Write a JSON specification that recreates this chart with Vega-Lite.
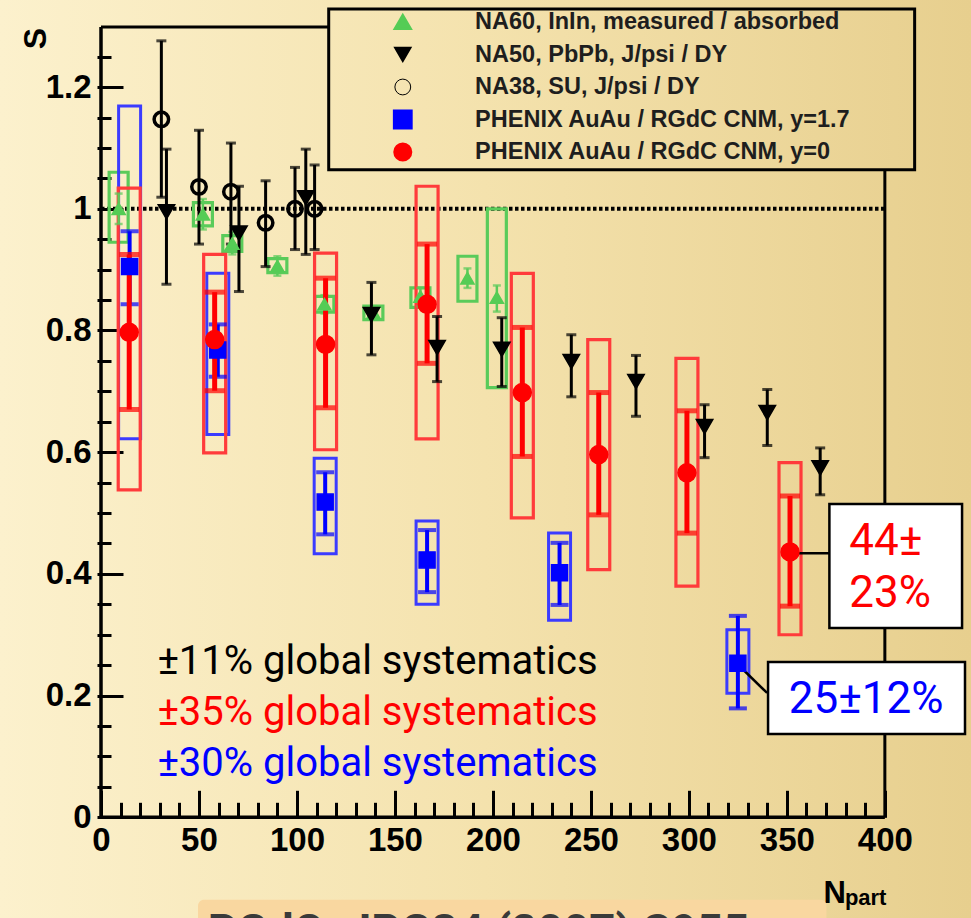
{
  "$schema": "https://vega.github.io/schema/vega-lite/v6.json",
  "width": 971,
  "height": 918,
  "padding": 0,
  "autosize": {"type": "none"},
  "background": "#F2DFA6",
  "config": {
    "view": {"stroke": null, "fill": {"gradient": "linear", "x1": 0, "y1": 0, "x2": 1, "y2": 0, "stops": [{"offset": 0, "color": "#FCF1CD"}, {"offset": 0.5, "color": "#F4E2AD"}, {"offset": 1, "color": "#E7CF8E"}]}}
  },
  "data": {"values": [
    {"series": "NA60, InIn, measured / absorbed", "N": 9, "S": 1.0, "lo": 0.975, "hi": 1.025, "blo": 0.945, "bhi": 1.06},
    {"series": "NA60, InIn, measured / absorbed", "N": 52, "S": 0.991, "lo": 0.966, "hi": 1.016, "blo": 0.972, "bhi": 1.01},
    {"series": "NA60, InIn, measured / absorbed", "N": 67, "S": 0.943, "lo": 0.925, "hi": 0.962, "blo": 0.93, "bhi": 0.956},
    {"series": "NA60, InIn, measured / absorbed", "N": 90, "S": 0.906, "lo": 0.89, "hi": 0.922, "blo": 0.895, "bhi": 0.918},
    {"series": "NA60, InIn, measured / absorbed", "N": 114, "S": 0.843, "lo": 0.828, "hi": 0.858, "blo": 0.83, "bhi": 0.856},
    {"series": "NA60, InIn, measured / absorbed", "N": 139, "S": 0.829, "lo": 0.818, "hi": 0.84, "blo": 0.818, "bhi": 0.84},
    {"series": "NA60, InIn, measured / absorbed", "N": 163, "S": 0.856, "lo": 0.84, "hi": 0.87, "blo": 0.838, "bhi": 0.87},
    {"series": "NA60, InIn, measured / absorbed", "N": 187, "S": 0.886, "lo": 0.87, "hi": 0.902, "blo": 0.848, "bhi": 0.922},
    {"series": "NA60, InIn, measured / absorbed", "N": 202, "S": 0.854, "lo": 0.831, "hi": 0.874, "blo": 0.706, "bhi": 1.0},
    {"series": "PHENIX AuAu / RGdC CNM, y=1.7", "N": 14.6, "S": 0.905, "lo": 0.843, "hi": 0.963, "blo": 0.622, "bhi": 1.169},
    {"series": "PHENIX AuAu / RGdC CNM, y=1.7", "N": 59.6, "S": 0.768, "lo": 0.724, "hi": 0.81, "blo": 0.629, "bhi": 0.894},
    {"series": "PHENIX AuAu / RGdC CNM, y=1.7", "N": 114.4, "S": 0.518, "lo": 0.465, "hi": 0.567, "blo": 0.433, "bhi": 0.59},
    {"series": "PHENIX AuAu / RGdC CNM, y=1.7", "N": 166.4, "S": 0.423, "lo": 0.37, "hi": 0.472, "blo": 0.35, "bhi": 0.487},
    {"series": "PHENIX AuAu / RGdC CNM, y=1.7", "N": 234, "S": 0.402, "lo": 0.349, "hi": 0.451, "blo": 0.324, "bhi": 0.467},
    {"series": "PHENIX AuAu / RGdC CNM, y=1.7", "N": 325, "S": 0.253, "lo": 0.179, "hi": 0.331, "blo": 0.204, "bhi": 0.308},
    {"series": "PHENIX AuAu / RGdC CNM, y=0", "N": 14.4, "S": 0.797, "lo": 0.67, "hi": 0.925, "blo": 0.538, "bhi": 1.034},
    {"series": "PHENIX AuAu / RGdC CNM, y=0", "N": 58, "S": 0.785, "lo": 0.701, "hi": 0.863, "blo": 0.599, "bhi": 0.925},
    {"series": "PHENIX AuAu / RGdC CNM, y=0", "N": 114.6, "S": 0.777, "lo": 0.673, "hi": 0.886, "blo": 0.604, "bhi": 0.927},
    {"series": "PHENIX AuAu / RGdC CNM, y=0", "N": 166.4, "S": 0.843, "lo": 0.746, "hi": 0.942, "blo": 0.622, "bhi": 1.037},
    {"series": "PHENIX AuAu / RGdC CNM, y=0", "N": 215, "S": 0.698, "lo": 0.593, "hi": 0.805, "blo": 0.492, "bhi": 0.894},
    {"series": "PHENIX AuAu / RGdC CNM, y=0", "N": 254, "S": 0.596, "lo": 0.497, "hi": 0.698, "blo": 0.407, "bhi": 0.785},
    {"series": "PHENIX AuAu / RGdC CNM, y=0", "N": 299, "S": 0.566, "lo": 0.467, "hi": 0.668, "blo": 0.38, "bhi": 0.754},
    {"series": "PHENIX AuAu / RGdC CNM, y=0", "N": 351.6, "S": 0.436, "lo": 0.347, "hi": 0.528, "blo": 0.3, "bhi": 0.583},
    {"series": "NA50, PbPb, J/psi / DY", "N": 33.4, "S": 0.995, "lo": 0.876, "hi": 1.098},
    {"series": "NA50, PbPb, J/psi / DY", "N": 70.4, "S": 0.96, "lo": 0.864, "hi": 1.037},
    {"series": "NA50, PbPb, J/psi / DY", "N": 104.5, "S": 1.018, "lo": 0.925, "hi": 1.098},
    {"series": "NA50, PbPb, J/psi / DY", "N": 138, "S": 0.826, "lo": 0.76, "hi": 0.879},
    {"series": "NA50, PbPb, J/psi / DY", "N": 171.5, "S": 0.772, "lo": 0.716, "hi": 0.823},
    {"series": "NA50, PbPb, J/psi / DY", "N": 204.5, "S": 0.769, "lo": 0.708, "hi": 0.821},
    {"series": "NA50, PbPb, J/psi / DY", "N": 240, "S": 0.749, "lo": 0.691, "hi": 0.793},
    {"series": "NA50, PbPb, J/psi / DY", "N": 273, "S": 0.716, "lo": 0.659, "hi": 0.759},
    {"series": "NA50, PbPb, J/psi / DY", "N": 308, "S": 0.642, "lo": 0.591, "hi": 0.678},
    {"series": "NA50, PbPb, J/psi / DY", "N": 340, "S": 0.665, "lo": 0.611, "hi": 0.703},
    {"series": "NA50, PbPb, J/psi / DY", "N": 367, "S": 0.574, "lo": 0.53, "hi": 0.607},
    {"series": "NA38, SU, J/psi / DY", "N": 30.8, "S": 1.147, "lo": 1.019, "hi": 1.276},
    {"series": "NA38, SU, J/psi / DY", "N": 50, "S": 1.036, "lo": 0.942, "hi": 1.129},
    {"series": "NA38, SU, J/psi / DY", "N": 66.3, "S": 1.028, "lo": 0.942, "hi": 1.108},
    {"series": "NA38, SU, J/psi / DY", "N": 84, "S": 0.977, "lo": 0.905, "hi": 1.046},
    {"series": "NA38, SU, J/psi / DY", "N": 99, "S": 1.0, "lo": 0.933, "hi": 1.068},
    {"series": "NA38, SU, J/psi / DY", "N": 109, "S": 1.0, "lo": 0.933, "hi": 1.072}
  ]},
  "resolve": {"scale": {"y": "independent"}, "axis": {"x": "independent", "y": "independent"}},
  "layer": [
    {
      "data": {"values": [{}]},
      "mark": {"type": "rect", "fill": "#F9D7A0", "cornerRadius": 6},
      "encoding": {
        "x": {"datum": 49.5, "type": "quantitative", "scale": {"domain": [-48.99, 441.41], "nice": false, "zero": false}, "axis": null},
        "x2": {"datum": 370.2},
        "y": {"datum": -0.1357, "type": "quantitative", "scale": {"domain": [-0.1655, 1.3431], "nice": false, "zero": false}, "axis": null},
        "y2": {"datum": -0.2}
      }
    },
    {
      "data": {"values": [{}]},
      "mark": {"type": "text", "text": "RGdC, JPG34 (2007) S955", "font": "Roboto", "fontSize": 45.5, "fontWeight": "bold", "color": "#3A3A3A", "align": "left", "baseline": "alphabetic"},
      "encoding": {
        "x": {"datum": 54.5, "type": "quantitative", "scale": {"domain": [-48.99, 441.41], "nice": false, "zero": false}, "axis": null},
        "y": {"datum": -0.2126, "type": "quantitative", "scale": {"domain": [-0.1655, 1.3431], "nice": false, "zero": false}, "axis": null}
      }
    },
    {
      "data": {"values": [{}]},
      "mark": {"type": "rule", "color": "#000000", "strokeWidth": 3.5},
      "encoding": {
        "x": {"datum": 0, "type": "quantitative", "scale": {"domain": [-48.99, 441.41], "nice": false, "zero": false}, "axis": null},
        "y": {"datum": 0, "type": "quantitative", "scale": {"domain": [-0.1655, 1.3431], "nice": false, "zero": false}, "axis": null},
        "y2": {"datum": 1.2988}
      }
    },
    {
      "data": {"values": [{}]},
      "mark": {"type": "rule", "color": "#000000", "strokeWidth": 3.5},
      "encoding": {
        "x": {"datum": 0, "type": "quantitative", "scale": {"domain": [-48.99, 441.41], "nice": false, "zero": false}, "axis": null},
        "x2": {"datum": 400},
        "y": {"datum": 0, "type": "quantitative", "scale": {"domain": [-0.1655, 1.3431], "nice": false, "zero": false}, "axis": null}
      }
    },
    {
      "data": {"values": [{}]},
      "mark": {"type": "rule", "color": "#000000", "strokeWidth": 3},
      "encoding": {
        "x": {"datum": 0, "type": "quantitative", "scale": {"domain": [-48.99, 441.41], "nice": false, "zero": false}, "axis": null},
        "x2": {"datum": 116.2},
        "y": {"datum": 1.2988, "type": "quantitative", "scale": {"domain": [-0.1655, 1.3431], "nice": false, "zero": false}, "axis": null}
      }
    },
    {
      "data": {"values": [{}]},
      "mark": {"type": "rule", "color": "#000000", "strokeWidth": 3},
      "encoding": {
        "x": {"datum": 400, "type": "quantitative", "scale": {"domain": [-48.99, 441.41], "nice": false, "zero": false}, "axis": null},
        "y": {"datum": 0, "type": "quantitative", "scale": {"domain": [-0.1655, 1.3431], "nice": false, "zero": false}, "axis": null},
        "y2": {"datum": 1.0642}
      }
    },
    {
      "data": {"values": [{}]},
      "mark": {"type": "rule", "color": "#000000", "strokeWidth": 4, "strokeDash": [3.5, 2.5]},
      "encoding": {
        "x": {"datum": 0, "type": "quantitative", "scale": {"domain": [-48.99, 441.41], "nice": false, "zero": false}, "axis": null},
        "x2": {"datum": 400},
        "y": {"datum": 1, "type": "quantitative", "scale": {"domain": [-0.1655, 1.3431], "nice": false, "zero": false}, "axis": null}
      }
    },
    {
      "transform": [{"filter": {"field": "series", "equal": "NA60, InIn, measured / absorbed"}}],
      "mark": {"type": "bar", "width": 19, "filled": false, "stroke": "#5ACB5A", "strokeWidth": 3.2},
      "encoding": {
        "x": {"field": "N", "type": "quantitative", "scale": {"domain": [-48.99, 441.41], "nice": false, "zero": false},
          "axis": {"orient": "bottom", "offset": -100.7, "values": [10,20,30,40,60,70,80,90,110,120,130,140,160,170,180,190,210,220,230,240,260,270,280,290,310,320,330,340,360,370,380,390], "domain": false, "grid": false, "tickSize": -15, "tickWidth": 3, "tickColor": "#000000", "labels": false, "title": null}},
        "y": {"field": "blo", "type": "quantitative", "scale": {"domain": [-0.1655, 1.3431], "nice": false, "zero": false},
          "axis": {"orient": "left", "offset": -97, "values": [0.05,0.1,0.15,0.25,0.3,0.35,0.45,0.5,0.55,0.65,0.7,0.75,0.85,0.9,0.95,1.05,1.1,1.15,1.25], "domain": false, "grid": false, "tickSize": -14, "tickWidth": 3, "tickColor": "#000000", "labels": false, "title": null}},
        "y2": {"field": "bhi"}
      }
    },
    {
      "transform": [{"filter": {"field": "series", "equal": "PHENIX AuAu / RGdC CNM, y=1.7"}}],
      "mark": {"type": "bar", "width": 22, "filled": false, "stroke": "#3B3BFF", "strokeWidth": 3},
      "encoding": {
        "x": {"field": "N", "type": "quantitative", "scale": {"domain": [-48.99, 441.41], "nice": false, "zero": false}, "axis": null},
        "y": {"field": "blo", "type": "quantitative", "scale": {"domain": [-0.1655, 1.3431], "nice": false, "zero": false}, "axis": null},
        "y2": {"field": "bhi"}
      }
    },
    {
      "transform": [{"filter": {"field": "series", "equal": "PHENIX AuAu / RGdC CNM, y=0"}}],
      "mark": {"type": "bar", "width": 22, "filled": false, "stroke": "#FF3B3B", "strokeWidth": 3.2},
      "encoding": {
        "x": {"field": "N", "type": "quantitative", "scale": {"domain": [-48.99, 441.41], "nice": false, "zero": false}, "axis": null},
        "y": {"field": "blo", "type": "quantitative", "scale": {"domain": [-0.1655, 1.3431], "nice": false, "zero": false}, "axis": null},
        "y2": {"field": "bhi"}
      }
    },
    {
      "transform": [{"filter": {"field": "series", "equal": "NA60, InIn, measured / absorbed"}}],
      "mark": {"type": "errorbar", "ticks": true, "size": 8, "thickness": 2.5, "color": "#5ACB5A"},
      "encoding": {
        "x": {"field": "N", "type": "quantitative", "scale": {"domain": [-48.99, 441.41], "nice": false, "zero": false}, "axis": null},
        "y": {"field": "lo", "type": "quantitative", "scale": {"domain": [-0.1655, 1.3431], "nice": false, "zero": false}, "axis": null},
        "y2": {"field": "hi"}
      }
    },
    {
      "transform": [{"filter": {"field": "series", "equal": "PHENIX AuAu / RGdC CNM, y=1.7"}}],
      "mark": {"type": "errorbar", "ticks": true, "size": 18, "thickness": 4, "color": "#0000FF"},
      "encoding": {
        "x": {"field": "N", "type": "quantitative", "scale": {"domain": [-48.99, 441.41], "nice": false, "zero": false}, "axis": null},
        "y": {"field": "lo", "type": "quantitative", "scale": {"domain": [-0.1655, 1.3431], "nice": false, "zero": false}, "axis": null},
        "y2": {"field": "hi"}
      }
    },
    {
      "transform": [{"filter": {"field": "series", "equal": "PHENIX AuAu / RGdC CNM, y=0"}}],
      "mark": {"type": "errorbar", "ticks": true, "size": 20, "thickness": 5, "color": "#FF0000"},
      "encoding": {
        "x": {"field": "N", "type": "quantitative", "scale": {"domain": [-48.99, 441.41], "nice": false, "zero": false}, "axis": null},
        "y": {"field": "lo", "type": "quantitative", "scale": {"domain": [-0.1655, 1.3431], "nice": false, "zero": false}, "axis": null},
        "y2": {"field": "hi"}
      }
    },
    {
      "transform": [{"filter": {"field": "series", "oneOf": ["NA50, PbPb, J/psi / DY", "NA38, SU, J/psi / DY"]}}],
      "mark": {"type": "errorbar", "ticks": true, "size": 10, "thickness": 3, "color": "#000000"},
      "encoding": {
        "x": {"field": "N", "type": "quantitative", "scale": {"domain": [-48.99, 441.41], "nice": false, "zero": false}, "axis": null},
        "y": {"field": "lo", "type": "quantitative", "scale": {"domain": [-0.1655, 1.3431], "nice": false, "zero": false}, "axis": null},
        "y2": {"field": "hi"}
      }
    },
    {
      "data": {"values": [{}]},
      "mark": {"type": "rule", "color": "#000000", "strokeWidth": 2.5},
      "encoding": {
        "x": {"datum": 352, "type": "quantitative", "scale": {"domain": [-48.99, 441.41], "nice": false, "zero": false}, "axis": null},
        "x2": {"datum": 371.7},
        "y": {"datum": 0.434, "type": "quantitative", "scale": {"domain": [-0.1655, 1.3431], "nice": false, "zero": false}, "axis": null}
      }
    },
    {
      "data": {"values": [{}]},
      "mark": {"type": "rule", "color": "#000000", "strokeWidth": 2.5},
      "encoding": {
        "x": {"datum": 323.7, "type": "quantitative", "scale": {"domain": [-48.99, 441.41], "nice": false, "zero": false}, "axis": null},
        "x2": {"datum": 339.9},
        "y": {"datum": 0.2552, "type": "quantitative", "scale": {"domain": [-0.1655, 1.3431], "nice": false, "zero": false}, "axis": null},
        "y2": {"datum": 0.2043}
      }
    },
    {
      "mark": {"type": "point", "filled": true, "opacity": 1},
      "encoding": {
        "x": {"field": "N", "type": "quantitative", "scale": {"domain": [-48.99, 441.41], "nice": false, "zero": false},
          "axis": {"orient": "bottom", "offset": -100.7, "values": [0,50,100,150,200,250,300,350,400], "domain": false, "grid": false, "tickSize": -27, "tickWidth": 3, "tickColor": "#000000", "labelFont": "Liberation Sans", "labelFontWeight": "bold", "labelFontSize": 33, "labelColor": "#000000", "labelPadding": 34, "labelOverlap": false, "labelFlush": false, "title": "N", "titleFont": "Liberation Sans", "titleFontWeight": "bold", "titleFontSize": 31, "titleColor": "#000000", "titleX": 823, "titleY": 85, "titleAlign": "left", "titleBaseline": "alphabetic"}},
        "y": {"field": "S", "type": "quantitative", "scale": {"domain": [-0.1655, 1.3431], "nice": false, "zero": false},
          "axis": {"orient": "left", "offset": -97, "values": [0,0.2,0.4,0.6,0.8,1,1.2], "format": ".1~f", "domain": false, "grid": false, "tickSize": -26, "tickWidth": 3, "tickColor": "#000000", "labelFont": "Liberation Sans", "labelFontWeight": "bold", "labelFontSize": 33, "labelColor": "#000000", "labelPadding": 32, "labelOverlap": false, "labelFlush": false, "title": "S", "titleFont": "Liberation Sans", "titleFontWeight": "bold", "titleFontSize": 32, "titleColor": "#000000", "titleX": -62, "titleY": 38, "titleAlign": "center", "titleBaseline": "middle", "titleAngle": 270}},
        "shape": {"field": "series", "type": "nominal", "scale": {"domain": ["NA60, InIn, measured / absorbed", "NA50, PbPb, J/psi / DY", "NA38, SU, J/psi / DY", "PHENIX AuAu / RGdC CNM, y=1.7", "PHENIX AuAu / RGdC CNM, y=0"], "range": ["triangle-up", "triangle-down", "circle", "square", "circle"]}, "legend": null},
        "fill": {"field": "series", "type": "nominal", "scale": {"domain": ["NA60, InIn, measured / absorbed", "NA50, PbPb, J/psi / DY", "NA38, SU, J/psi / DY", "PHENIX AuAu / RGdC CNM, y=1.7", "PHENIX AuAu / RGdC CNM, y=0"], "range": ["#55CC55", "#000000", "transparent", "#0000FF", "#FF0000"]}, "legend": null},
        "stroke": {"field": "series", "type": "nominal", "scale": {"domain": ["NA60, InIn, measured / absorbed", "NA50, PbPb, J/psi / DY", "NA38, SU, J/psi / DY", "PHENIX AuAu / RGdC CNM, y=1.7", "PHENIX AuAu / RGdC CNM, y=0"], "range": ["#55CC55", "#000000", "#000000", "#0000FF", "#FF0000"]}, "legend": null},
        "strokeWidth": {"field": "series", "type": "nominal", "scale": {"type": "ordinal", "domain": ["NA60, InIn, measured / absorbed", "NA50, PbPb, J/psi / DY", "NA38, SU, J/psi / DY", "PHENIX AuAu / RGdC CNM, y=1.7", "PHENIX AuAu / RGdC CNM, y=0"], "range": [1.5, 1.5, 3.5, 1.5, 1.5]}, "legend": null},
        "size": {"field": "series", "type": "nominal", "scale": {"type": "ordinal", "domain": ["NA60, InIn, measured / absorbed", "NA50, PbPb, J/psi / DY", "NA38, SU, J/psi / DY", "PHENIX AuAu / RGdC CNM, y=1.7", "PHENIX AuAu / RGdC CNM, y=0"], "range": [175, 272, 210, 256, 324]}, "legend": null}
      }
    },
    {
      "data": {"values": [{}]},
      "mark": {"type": "rect", "fill": "#FFFFFF", "stroke": "#000000", "strokeWidth": 2.5},
      "encoding": {
        "x": {"datum": 371.7, "type": "quantitative", "scale": {"domain": [-48.99, 441.41], "nice": false, "zero": false}, "axis": null},
        "x2": {"datum": 439.4},
        "y": {"datum": 0.5149, "type": "quantitative", "scale": {"domain": [-0.1655, 1.3431], "nice": false, "zero": false}, "axis": null},
        "y2": {"datum": 0.3111}
      }
    },
    {
      "data": {"values": [{}]},
      "mark": {"type": "rect", "fill": "#FFFFFF", "stroke": "#000000", "strokeWidth": 2.5},
      "encoding": {
        "x": {"datum": 340.4, "type": "quantitative", "scale": {"domain": [-48.99, 441.41], "nice": false, "zero": false}, "axis": null},
        "x2": {"datum": 440.9},
        "y": {"datum": 0.2552, "type": "quantitative", "scale": {"domain": [-0.1655, 1.3431], "nice": false, "zero": false}, "axis": null},
        "y2": {"datum": 0.1369}
      }
    },
    {
      "data": {"values": [{}]},
      "mark": {"type": "rect", "filled": false, "fill": null, "stroke": "#000000", "strokeWidth": 3},
      "encoding": {
        "x": {"datum": 116.2, "type": "quantitative", "scale": {"domain": [-48.99, 441.41], "nice": false, "zero": false}, "axis": null},
        "x2": {"datum": 415.2},
        "y": {"datum": 1.3283, "type": "quantitative", "scale": {"domain": [-0.1655, 1.3431], "nice": false, "zero": false}, "axis": null},
        "y2": {"datum": 1.0642}
      }
    },
    {
      "data": {"values": [{"series": "NA60, InIn, measured / absorbed"}, {"series": "NA50, PbPb, J/psi / DY"}, {"series": "NA38, SU, J/psi / DY"}, {"series": "PHENIX AuAu / RGdC CNM, y=1.7"}, {"series": "PHENIX AuAu / RGdC CNM, y=0"}]},
      "mark": {"type": "point", "filled": true, "opacity": 1, "size": 250},
      "encoding": {
        "x": {"datum": 154.0, "type": "quantitative", "scale": {"domain": [-48.99, 441.41], "nice": false, "zero": false}, "axis": null},
        "y": {"field": "series", "type": "nominal", "scale": {"type": "point", "domain": ["NA60, InIn, measured / absorbed", "NA50, PbPb, J/psi / DY", "NA38, SU, J/psi / DY", "PHENIX AuAu / RGdC CNM, y=1.7", "PHENIX AuAu / RGdC CNM, y=0"], "range": [22, 152], "padding": 0}, "axis": null},
        "shape": {"field": "series", "type": "nominal", "legend": null},
        "fill": {"field": "series", "type": "nominal", "legend": null},
        "stroke": {"field": "series", "type": "nominal", "legend": null},
        "strokeWidth": {"field": "series", "type": "nominal", "legend": null}
      }
    },
    {
      "data": {"values": [{"series": "NA60, InIn, measured / absorbed"}, {"series": "NA50, PbPb, J/psi / DY"}, {"series": "NA38, SU, J/psi / DY"}, {"series": "PHENIX AuAu / RGdC CNM, y=1.7"}, {"series": "PHENIX AuAu / RGdC CNM, y=0"}]},
      "mark": {"type": "text", "font": "Liberation Sans", "fontSize": 23.5, "fontWeight": "bold", "color": "#1E1E1E", "align": "left", "baseline": "middle"},
      "encoding": {
        "x": {"datum": 190.9, "type": "quantitative", "scale": {"domain": [-48.99, 441.41], "nice": false, "zero": false}, "axis": null},
        "y": {"field": "series", "type": "nominal", "scale": {"type": "point", "domain": ["NA60, InIn, measured / absorbed", "NA50, PbPb, J/psi / DY", "NA38, SU, J/psi / DY", "PHENIX AuAu / RGdC CNM, y=1.7", "PHENIX AuAu / RGdC CNM, y=0"], "range": [22, 152], "padding": 0}, "axis": null},
        "text": {"field": "series"}
      }
    },
    {
      "data": {"values": [{}]},
      "mark": {"type": "text", "text": "44±", "font": "Roboto", "fontSize": 44, "color": "#FF0000", "align": "left", "baseline": "alphabetic"},
      "encoding": {
        "x": {"datum": 381.8, "type": "quantitative", "scale": {"domain": [-48.99, 441.41], "nice": false, "zero": false}, "axis": null},
        "y": {"datum": 0.4311, "type": "quantitative", "scale": {"domain": [-0.1655, 1.3431], "nice": false, "zero": false}, "axis": null}
      }
    },
    {
      "data": {"values": [{}]},
      "mark": {"type": "text", "text": "23%", "font": "Roboto", "fontSize": 44, "color": "#FF0000", "align": "left", "baseline": "alphabetic"},
      "encoding": {
        "x": {"datum": 381.8, "type": "quantitative", "scale": {"domain": [-48.99, 441.41], "nice": false, "zero": false}, "axis": null},
        "y": {"datum": 0.3456, "type": "quantitative", "scale": {"domain": [-0.1655, 1.3431], "nice": false, "zero": false}, "axis": null}
      }
    },
    {
      "data": {"values": [{}]},
      "mark": {"type": "text", "text": "25±12%", "font": "Roboto", "fontSize": 44, "color": "#0000FF", "align": "left", "baseline": "alphabetic"},
      "encoding": {
        "x": {"datum": 351, "type": "quantitative", "scale": {"domain": [-48.99, 441.41], "nice": false, "zero": false}, "axis": null},
        "y": {"datum": 0.1714, "type": "quantitative", "scale": {"domain": [-0.1655, 1.3431], "nice": false, "zero": false}, "axis": null}
      }
    },
    {
      "data": {"values": [{}]},
      "mark": {"type": "text", "text": "±11% global systematics", "font": "Roboto", "fontSize": 40, "color": "#000000", "align": "left", "baseline": "alphabetic"},
      "encoding": {
        "x": {"datum": 28.8, "type": "quantitative", "scale": {"domain": [-48.99, 441.41], "nice": false, "zero": false}, "axis": null},
        "y": {"datum": 0.2355, "type": "quantitative", "scale": {"domain": [-0.1655, 1.3431], "nice": false, "zero": false}, "axis": null}
      }
    },
    {
      "data": {"values": [{}]},
      "mark": {"type": "text", "text": "±35% global systematics", "font": "Roboto", "fontSize": 40, "color": "#FF0000", "align": "left", "baseline": "alphabetic"},
      "encoding": {
        "x": {"datum": 28.8, "type": "quantitative", "scale": {"domain": [-48.99, 441.41], "nice": false, "zero": false}, "axis": null},
        "y": {"datum": 0.1517, "type": "quantitative", "scale": {"domain": [-0.1655, 1.3431], "nice": false, "zero": false}, "axis": null}
      }
    },
    {
      "data": {"values": [{}]},
      "mark": {"type": "text", "text": "±30% global systematics", "font": "Roboto", "fontSize": 40, "color": "#0000FF", "align": "left", "baseline": "alphabetic"},
      "encoding": {
        "x": {"datum": 28.8, "type": "quantitative", "scale": {"domain": [-48.99, 441.41], "nice": false, "zero": false}, "axis": null},
        "y": {"datum": 0.0679, "type": "quantitative", "scale": {"domain": [-0.1655, 1.3431], "nice": false, "zero": false}, "axis": null}
      }
    },
    {
      "data": {"values": [{}]},
      "mark": {"type": "text", "text": "part", "font": "Liberation Sans", "fontSize": 22, "fontWeight": "bold", "color": "#000000", "align": "left", "baseline": "alphabetic"},
      "encoding": {
        "x": {"datum": 379.6, "type": "quantitative", "scale": {"domain": [-48.99, 441.41], "nice": false, "zero": false}, "axis": null},
        "y": {"datum": -0.1441, "type": "quantitative", "scale": {"domain": [-0.1655, 1.3431], "nice": false, "zero": false}, "axis": null}
      }
    }
  ]
}
